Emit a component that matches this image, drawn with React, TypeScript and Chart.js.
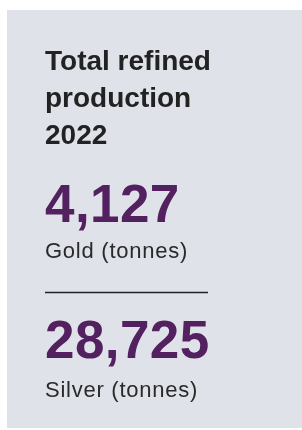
import React, { useEffect, useRef } from "react";
import { Chart, registerables } from "chart.js";

Chart.register(...registerables);

const titleLines = ["Total refined", "production", "2022"];
const metals = ["Gold", "Silver"];
const units = ["tonnes", "tonnes"];
const values = [4127, 28725];

const FONT = '"Liberation Sans", Arial, sans-serif';

export default function App() {
  const ref = useRef<HTMLCanvasElement>(null);

  useEffect(() => {
    document.body.style.margin = "0";
    const statPlugin = {
      id: "statCard",
      beforeDraw(chart: any) {
        const ctx = chart.ctx as any;
        ctx.save();
        ctx.fillStyle = "#dfe2e8";
        ctx.fillRect(7, 10, chart.width - 7, 418);

        const x = 45;
        ctx.textAlign = "left";
        ctx.textBaseline = "alphabetic";

        ctx.fillStyle = "#222222";
        ctx.font = `bold 28px ${FONT}`;
        titleLines.forEach((t: string, i: number) => ctx.fillText(t, x, 70 + i * 37));

        const blockTop = [222, 358];
        values.forEach((v, i) => {
          const base = blockTop[i];
          ctx.fillStyle = "#53215f";
          ctx.font = `bold 53px ${FONT}`;
          ctx.letterSpacing = "0.4px";
          ctx.fillText(v.toLocaleString("en-US"), x, base);
          ctx.fillStyle = "#2a2a2a";
          ctx.font = `22px ${FONT}`;
          ctx.letterSpacing = "0.75px";
          ctx.fillText(`${metals[i]} (${units[i]})`, x, base + 36 + (i === 1 ? 3 : 0));
          ctx.letterSpacing = "0px";
        });

        ctx.strokeStyle = "#222222";
        ctx.lineWidth = 1.5;
        ctx.beginPath();
        ctx.moveTo(45, 292.5);
        ctx.lineTo(208, 292.5);
        ctx.stroke();
        ctx.restore();
      },
    };

    const chart = new Chart(ref.current as HTMLCanvasElement, {
      type: "bar",
      data: { labels: [], datasets: [] },
      options: {
        responsive: false,
        animation: false,
        plugins: { legend: { display: false }, tooltip: { enabled: false } },
        scales: { x: { display: false }, y: { display: false } },
      },
      plugins: [statPlugin],
    });
    return () => chart.destroy();
  }, []);

  return <canvas ref={ref} width={302} height={430} style={{ display: "block" }} />;
}
